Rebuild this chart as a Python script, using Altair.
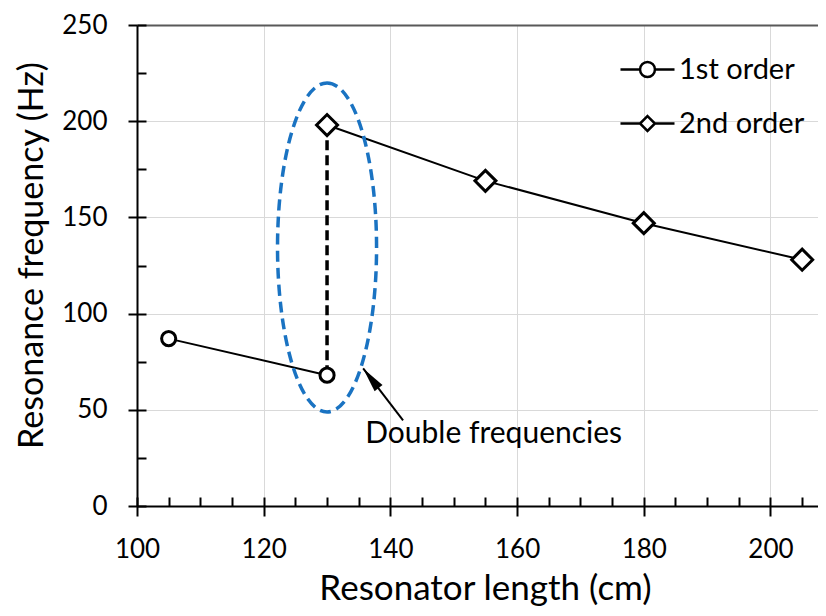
import altair as alt
import pandas as pd

# ---- data ----
series_names = ["1st order", "2nd order"]
order1_x = [105, 130]
order1_y = [87, 68]
order2_x = [130, 155, 180, 205]
order2_y = [198, 169, 147, 128]

double_x = [130, 130]
double_y = [68, 198]

ellipse_center = [130, 134.4]
arrow_from = [142.0, 44.5]
arrow_to = [135.7, 71.5]
note_text = ["Double frequencies"]
note_pos = [156.3, 32.7]

x_major = [100, 120, 140, 160, 180, 200]
x_minor = [100, 105, 110, 115, 120, 125, 130, 135, 140, 145, 150, 155,
           160, 165, 170, 175, 180, 185, 190, 195, 200, 205]
y_major = [0, 50, 100, 150, 200, 250]
y_minor = [0, 25, 50, 75, 100, 125, 150, 175, 200, 225, 250]

# ---- layout / style ----
W, H = 681, 481
FONT = "Lato"
xs = alt.Scale(domain=[100, 207.5], nice=False, zero=False)
ys = alt.Scale(domain=[0, 250], nice=False, zero=True)

df = pd.DataFrame({
    "x": order1_x + order2_x,
    "y": order1_y + order2_y,
    "order": [series_names[0]] * len(order1_x) + [series_names[1]] * len(order2_x),
})
df1 = pd.DataFrame({"x": order1_x, "y": order1_y})
df2 = pd.DataFrame({"x": order2_x, "y": order2_y})
df_double = pd.DataFrame({"x": [double_x[0]], "y": [double_y[0]], "y2": [double_y[1]]})
df_ell = pd.DataFrame({"x": [ellipse_center[0]], "y": [ellipse_center[1]]})
df_arrow = pd.DataFrame({"x": [arrow_from[0]], "y": [arrow_from[1]],
                         "x2": [arrow_to[0]], "y2": [arrow_to[1]]})
df_head = pd.DataFrame({"x": [arrow_to[0]], "y": [arrow_to[1]]})
df_note = pd.DataFrame({"x": [note_pos[0]], "y": [note_pos[1]], "t": note_text})

x_axis_main = alt.Axis(
    values=x_major, format="d", labelFont=FONT, labelFontSize=26, labelColor="black",
    labelPadding=41, labelBaseline="alphabetic", labelFlush=False, labelOverlap=False,
    tickSize=10, tickWidth=2, tickColor="black",
    domainColor="black", domainWidth=2,
    grid=True, gridColor="#d9d9d9", gridWidth=1,
    title="Resonator length (cm)", titleFont=FONT, titleFontSize=35,
    titleFontWeight="normal", titleColor="black", titleX=348, titleY=93,
    titleBaseline="alphabetic", titleAlign="center", titleAngle=0,
)
y_axis_main = alt.Axis(
    values=y_major, format="d", labelFont=FONT, labelFontSize=26, labelColor="black",
    labelPadding=21, labelFlush=False, labelOverlap=False,
    tickSize=9, tickWidth=2, tickColor="black",
    domainColor="black", domainWidth=2,
    grid=True,
    gridColor={"condition": {"test": "datum.value === 250", "value": "#595959"}, "value": "#d9d9d9"},
    gridWidth={"condition": {"test": "datum.value === 250", "value": 2}, "value": 1},
    title="Resonance frequency (Hz)", titleFont=FONT, titleFontSize=34,
    titleFontWeight="normal", titleColor="black", titleAngle=270,
    titleX=-95, titleY=230, titleBaseline="alphabetic", titleAlign="center",
)
x_axis_inner = alt.Axis(
    orient="top", offset=-H, values=x_minor, labels=False, domain=False, grid=False,
    tickSize=9, tickWidth=2, tickColor="black", title=None,
)
y_axis_inner = alt.Axis(
    orient="right", offset=-W, values=y_minor, labels=False, domain=False, grid=False,
    tickSize=9, tickWidth=2, tickColor="black", title=None,
)

def X(axis=None):
    return alt.X("x:Q", scale=xs, axis=axis)

def Y(axis=None):
    return alt.Y("y:Q", scale=ys, axis=axis)

lines = alt.Chart(df).mark_line(strokeWidth=2, color="black").encode(
    x=X(x_axis_main), y=Y(y_axis_main), detail="order:N",
)

double = alt.Chart(df_double).mark_rule(color="black", strokeWidth=3.5, strokeDash=[10, 5]).encode(
    x=X(), y=Y(), y2="y2:Q",
)

ellipse = alt.Chart(df_ell).mark_point(
    shape="M0,-1A0.301,1,0,1,1,0,1A0.301,1,0,1,1,0,-1Z",
    size=108241, filled=False, stroke="#1a73c2", strokeWidth=3.5,
    strokeDash=[11, 6], opacity=1,
).encode(x=X(), y=Y())

pts1 = alt.Chart(df1).mark_point(shape="circle", size=200, filled=True, fill="white",
                                 stroke="black", strokeWidth=3, opacity=1).encode(
    x=X(x_axis_inner), y=Y(y_axis_inner),
)
pts2 = alt.Chart(df2).mark_point(shape="diamond", size=441, filled=True, fill="white",
                                 stroke="black", strokeWidth=3, opacity=1).encode(
    x=X(), y=Y(),
)

# legend-only layer: symbols = line stub + marker
circle_sym = "M-2.5,0H-0.69M0.69,0H2.5M0.69,0A0.69,0.69,0,1,1,-0.69,0A0.69,0.69,0,1,1,0.69,0Z"
diamond_sym = "M-2.5,0H-0.69M0.69,0H2.5M0,-0.69L0.69,0L0,0.69L-0.69,0Z"
leg = alt.Legend(
    title=None, orient="none", legendX=496, legendY=30,
    symbolSize=467, symbolFillColor="white", symbolStrokeColor="black",
    symbolStrokeWidth=2.5, labelFont=FONT, labelFontSize=29,
    labelColor="black", labelOffset=17, labelLimit=400,
    rowPadding=24, padding=0,
)
legend_layer = alt.Chart(df).transform_filter("false").mark_point(
    filled=False, strokeWidth=2.5, opacity=1,
).encode(
    x=X(), y=Y(),
    fill=alt.value("white"),
    stroke=alt.Stroke("order:N", scale=alt.Scale(domain=series_names, range=["black", "black"]),
                      legend=leg),
    shape=alt.Shape("order:N", scale=alt.Scale(domain=series_names, range=[circle_sym, diamond_sym]),
                    legend=leg),
)

arrow = alt.Chart(df_arrow).mark_rule(color="black", strokeWidth=2).encode(
    x=X(), y=Y(), x2="x2:Q", y2="y2:Q",
)
head = alt.Chart(df_head).mark_point(
    shape="M0,0L0.2,1L-0.2,1Z", size=2500, angle=322, filled=True,
    color="black", opacity=1,
).encode(x=X(), y=Y())
note = alt.Chart(df_note).mark_text(font=FONT, fontSize=30, color="black",
                                    align="center", baseline="alphabetic").encode(
    x=X(), y=Y(), text="t:N",
)

chart = alt.layer(lines, double, ellipse, pts1, pts2, legend_layer, arrow, head, note).resolve_scale(
    x="shared", y="shared"
).resolve_axis(
    x="independent", y="independent"
).properties(
    width=W, height=H,
    autosize=alt.AutoSizeParams(type="none"),
    padding={"left": 129, "top": 17, "right": 0, "bottom": 102},
).configure_view(stroke=None).configure(background="white")

chart.save("out.html", embed_options={"renderer": "svg", "actions": False})
